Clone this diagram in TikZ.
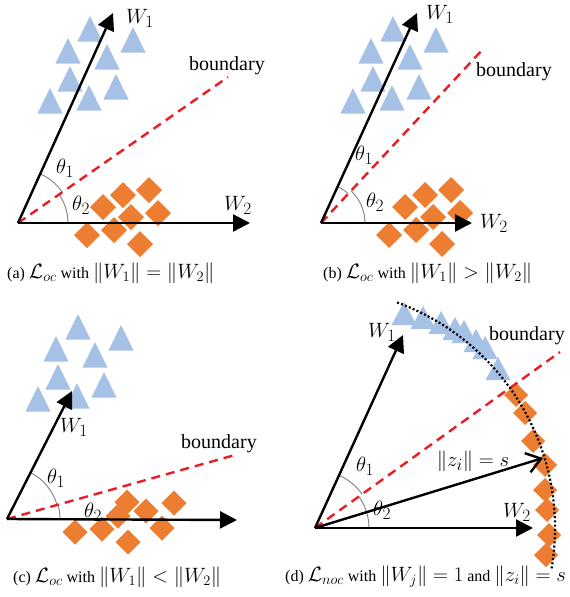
\documentclass[tikz,border=0pt]{standalone}
\usepackage{fontspec}
\setmainfont{Liberation Serif}
\usetikzlibrary{arrows.meta}
\DeclareMathSizes{20}{20}{15.5}{11}
\DeclareMathSizes{21}{21}{16}{12}
\definecolor{tricol}{RGB}{166,193,230}
\definecolor{diacol}{RGB}{237,125,49}
\definecolor{bndred}{RGB}{236,28,36}
\newcommand\tri[2]{\fill[tricol] (#1,#2) -- ++(-12.5,25.5) -- ++(25,0) -- cycle;}
\newcommand\trid[2]{\fill[tricol] (#1,#2) -- ++(-12.5,23) -- ++(25,0) -- cycle;}
\newcommand\dia[3]{\fill[diacol] (#2,#3) ++(0,-#1) -- ++(#1,#1) -- ++(-#1,#1) -- ++(-#1,-#1) -- cycle;}
\newcommand\cmath[1]{{\fontsize{20}{22}\selectfont$#1$}}
\newcommand\trisetA{%
  \tri{90}{16}\tri{133}{27}\tri{68}{38}\tri{107}{44}%
  \tri{70}{66}\tri{116}{74}\tri{50}{88}\tri{89}{85}}
\newcommand\diasetA{%
  \dia{13}{123}{195}\dia{13}{149}{190}\dia{13}{103}{207}\dia{13}{131}{217}%
  \dia{13}{158}{213}\dia{13}{87}{235}\dia{13}{114}{230}\dia{13}{140}{244}}
\begin{document}
\begin{tikzpicture}[x=1pt,y=-1pt,
  vec/.style={line width=2.4pt,-{Triangle[length=17pt,width=17pt]}},
  zvec/.style={line width=2.4pt,-{Straight Barb[length=14pt,width=20pt,line width=2.4pt]}},
  bnd/.style={bndred,line width=2.4pt,dash pattern=on 9pt off 6pt},
  ang/.style={gray,line width=0.9pt},
  dots/.style={black,line width=2.2pt,dash pattern=on 2pt off 2.2pt},
  lab/.style={font=\fontsize{21}{24}\selectfont,inner sep=0pt},
  txt/.style={font=\fontsize{20}{24}\selectfont,inner sep=0pt},
  captxt/.style={font=\fontsize{16}{19}\selectfont,inner sep=0pt,anchor=west}]
\fill[white] (0,0) rectangle (570,597);
\useasboundingbox (0,0) rectangle (570,597);

% ---------------- (a)
\coordinate (Oa) at (18,223);
\coordinate (W1a) at (113,13);
\coordinate (W2a) at (250,223);
\coordinate (Ba) at (228,77);
\trisetA
\diasetA
\draw[ang] (Oa) ++(-66:54) arc[start angle=-66,end angle=-35,radius=54];
\draw[ang] (Oa) ++(-35:50) arc[start angle=-35,end angle=0,radius=50];
\draw[bnd] (Oa) -- (Ba);
\draw[vec] (Oa) -- (W1a);
\draw[vec] (Oa) -- (W2a);
\node[lab] (lw1a) at (140,18) {$W_1$};
\node[lab] (lw2a) at (238,205) {$W_2$};
\node[txt] (lba) at (227,66) {boundary};
\node[lab] (lt1a) at (65,168) {$\theta_1$};
\node[lab] (lt2a) at (81,205) {$\theta_2$};
\node[captxt] (capa) at (7,273) {(a) \cmath{\mathcal{L}_{oc}} with \cmath{\|W_1\| = \|W_2\|}};

% ---------------- (b)
\coordinate (Ob) at (321,223);
\coordinate (W1b) at (417,13);
\coordinate (W2b) at (472,223);
\coordinate (Bb) at (484,48);
\begin{scope}[shift={(303,0)}]\trisetA\end{scope}
\begin{scope}[shift={(302,0)}]\diasetA\end{scope}
\draw[ang] (Ob) ++(-65:40) arc[start angle=-65,end angle=-47,radius=40];
\draw[ang] (Ob) ++(-47:44) arc[start angle=-47,end angle=0,radius=44];
\draw[bnd] (Ob) -- (Bb);
\draw[vec] (Ob) -- (W1b);
\draw[vec] (Ob) -- (W2b);
\node[lab] (lw1b) at (440,14) {$W_1$};
\node[lab] (lw2b) at (494,223) {$W_2$};
\node[txt] (lbb) at (514,72) {boundary};
\node[lab] (lt1b) at (364,155) {$\theta_1$};
\node[lab] (lt2b) at (375,202) {$\theta_2$};
\node[captxt] (capb) at (323,273) {(b) \cmath{\mathcal{L}_{oc}} with \cmath{\|W_1\| > \|W_2\|}};

% ---------------- (c)
\coordinate (Oc) at (7,519);
\coordinate (W1c) at (72,391);
\coordinate (W2c) at (237,520);
\coordinate (Bc) at (235,455);
\begin{scope}[shift={(-12,298)}]\trisetA\end{scope}
\dia{12.5}{127}{502}\dia{12.5}{146}{511}\dia{12.5}{174}{503}\dia{12.5}{118}{516}
\dia{12.5}{75}{532}\dia{12.5}{102}{529}\dia{12.5}{162}{528}\dia{12.5}{128}{542}
\draw[ang] (Oc) ++(-63:52) arc[start angle=-63,end angle=-16,radius=52];
\draw[ang] (Oc) ++(-16:53) arc[start angle=-16,end angle=0,radius=53];
\draw[bnd] (Oc) -- (Bc);
\draw[vec] (Oc) -- (W1c);
\draw[vec] (Oc) -- (W2c);
\node[lab] (lw1c) at (74,427) {$W_1$};
\node[txt] (lbc) at (219,444) {boundary};
\node[lab] (lt1c) at (56,478) {$\theta_1$};
\node[lab] (lt2c) at (93,512) {$\theta_2$};
\node[captxt] (capc) at (13,577) {(c) \cmath{\mathcal{L}_{oc}} with \cmath{\|W_1\| < \|W_2\|}};

% ---------------- (d)
\coordinate (Od) at (315,528);
\coordinate (W1d) at (403,335);
\coordinate (W2d) at (533,528);
\coordinate (Zd) at (543,458);
\coordinate (Bd) at (560,352);
\node[lab] (lw1d) at (382,332) {$W_1$};
\trid{404}{302}\trid{423}{306}\trid{441}{311}\trid{455}{317}
\trid{464}{320}\trid{476}{329}\trid{485}{336}\trid{498}{357}
\dia{12}{516}{395}\dia{12}{525}{413}\dia{12}{533}{441}\dia{12}{545}{465}
\dia{12}{545}{490}\dia{12}{547}{510}\dia{12}{549}{535}\dia{12}{546}{555}
\draw[ang] (Od) ++(-65:58) arc[start angle=-65,end angle=-35.5,radius=58];
\draw[ang] (Od) ++(-35.5:54) arc[start angle=-35.5,end angle=0,radius=54];
\draw[bnd] (Od) -- (Bd);
\draw[dots] (Od) ++(-70:240) arc[start angle=-70,end angle=10,radius=240];
\draw[vec] (Od) -- (W1d);
\draw[vec] (Od) -- (W2d);
\draw[zvec] (Od) -- (Zd);
\node[lab] (lw2d) at (517,512) {$W_2$};
\node[txt] (lbd) at (527,336) {boundary};
\node[lab] (lzd) at (473,461) {$\|z_i\| = s$};
\node[lab] (lt1d) at (365,466) {$\theta_1$};
\node[lab] (lt2d) at (382,510) {$\theta_2$};
\node[captxt] (capd) at (285,577) {(d) \cmath{\mathcal{L}_{noc}} with \cmath{\left\|W_j\right\| = 1} and \cmath{\|z_i\| = s}};
\end{tikzpicture}
\end{document}
